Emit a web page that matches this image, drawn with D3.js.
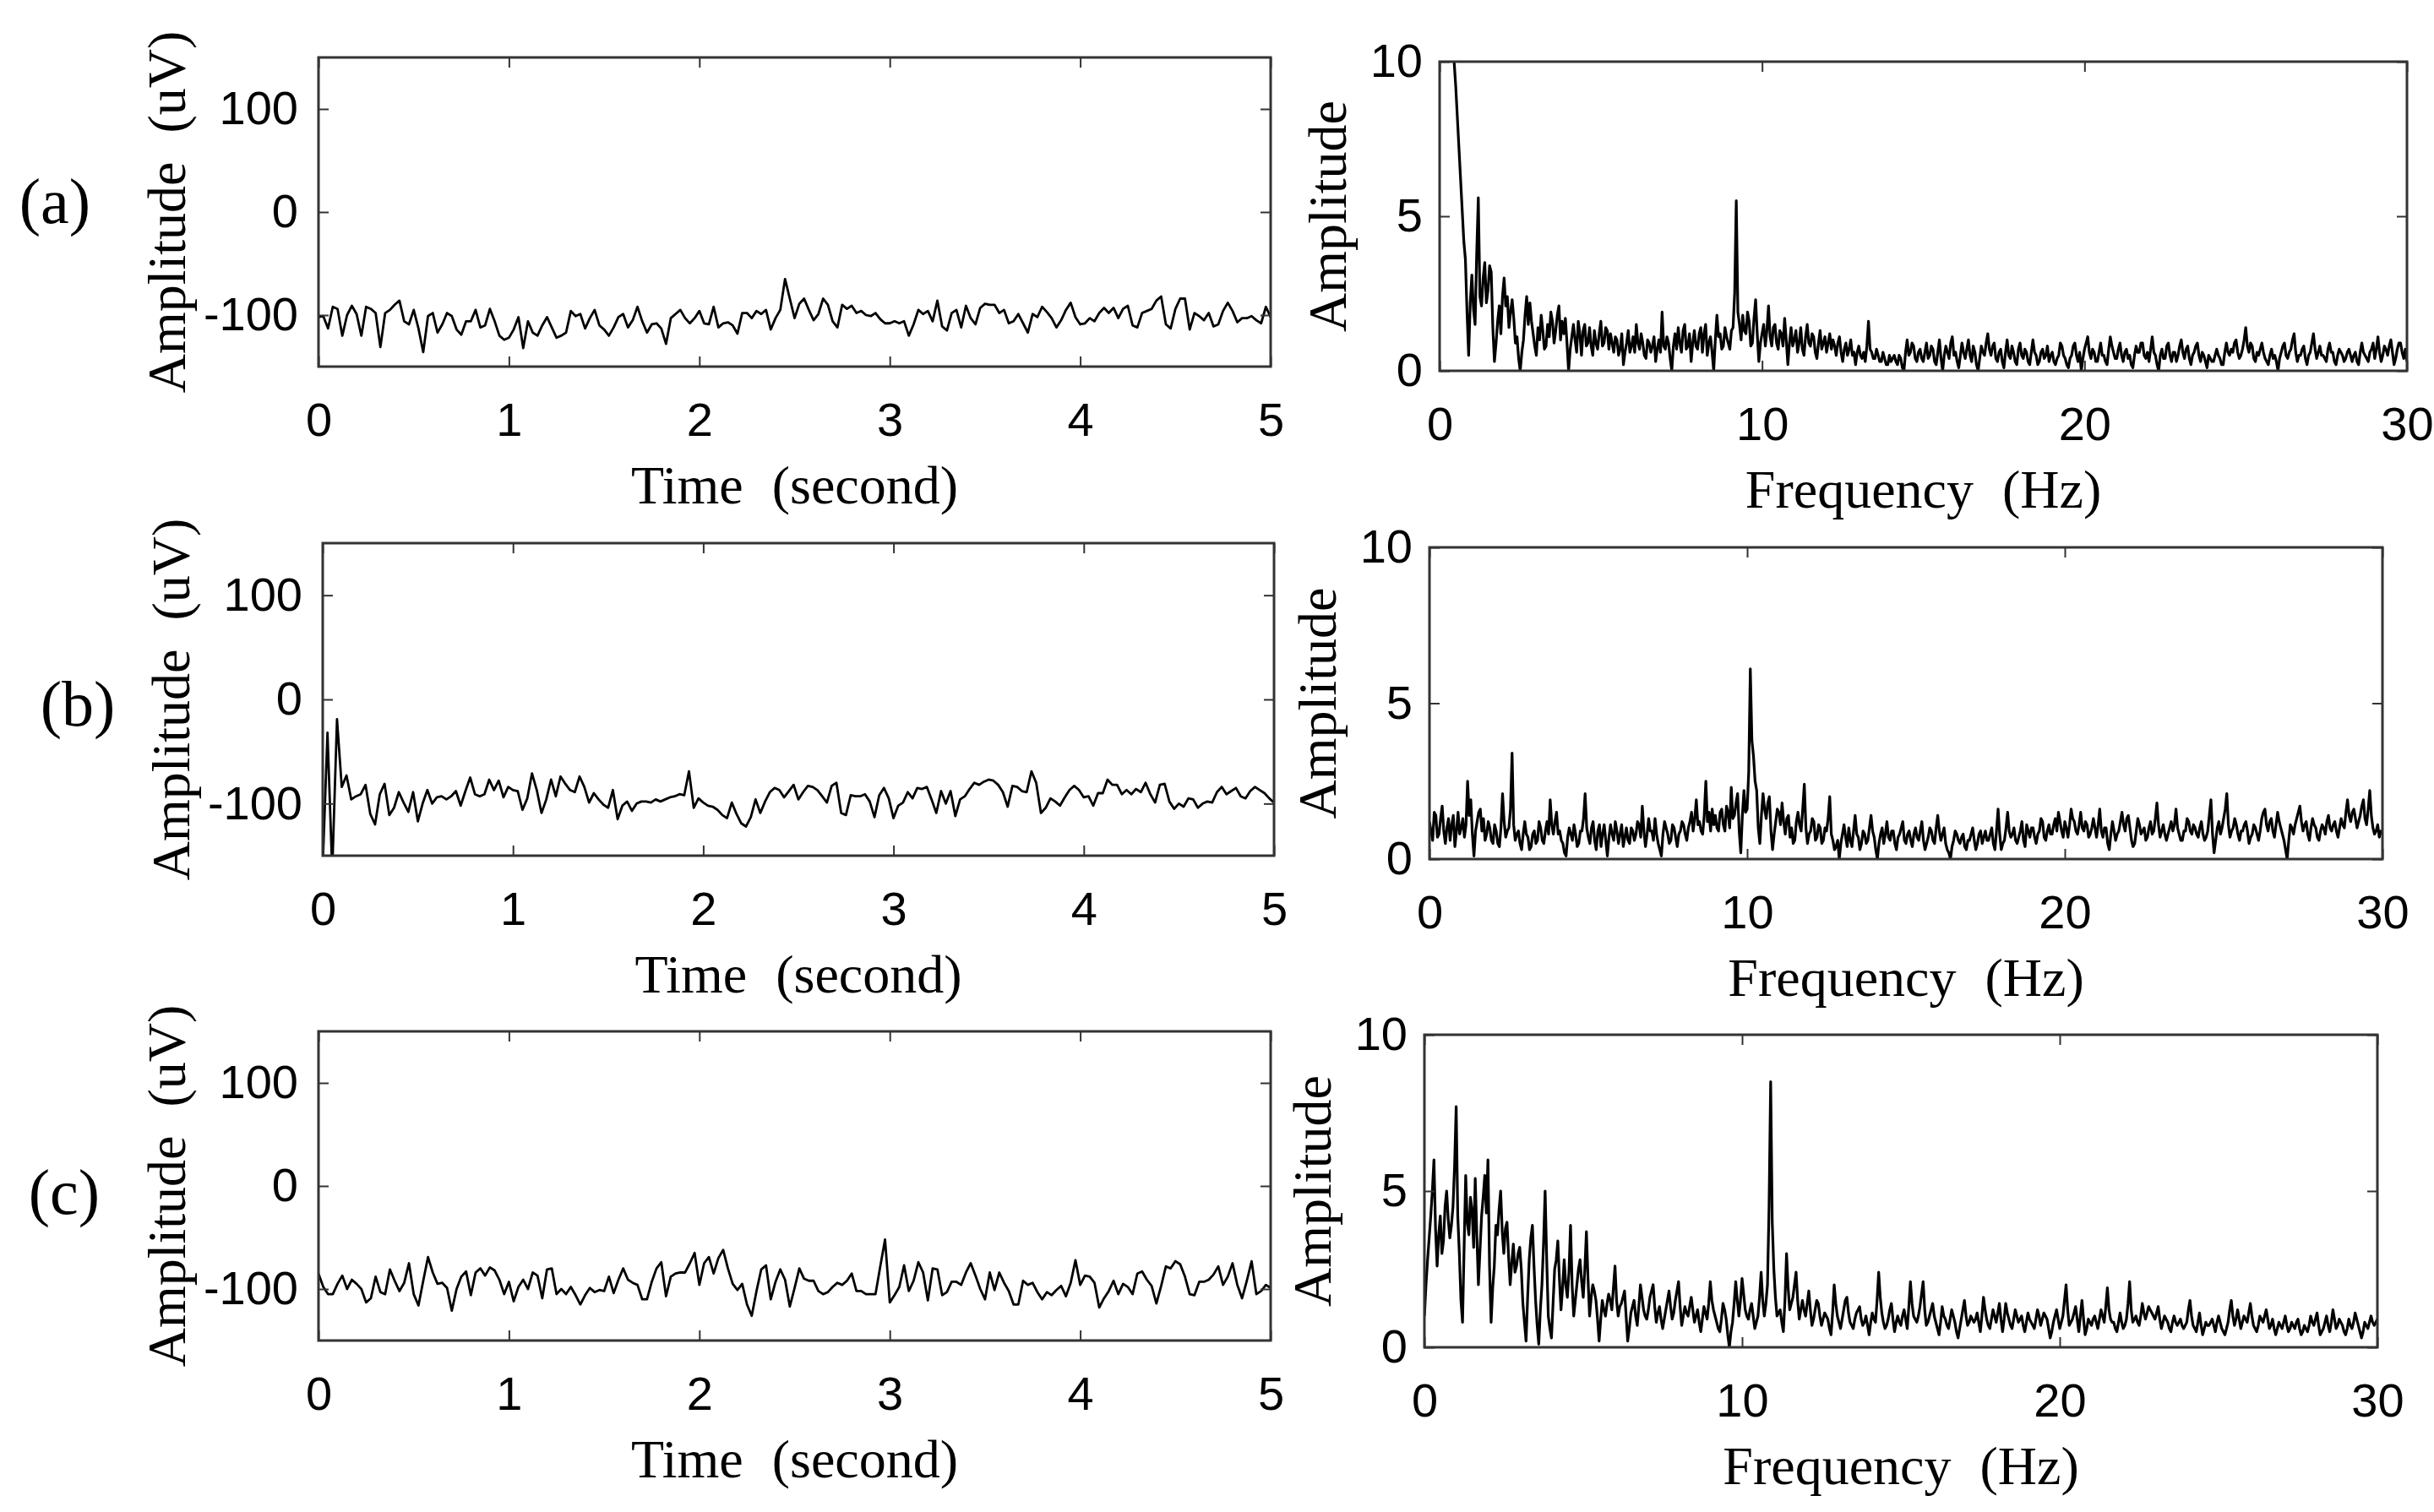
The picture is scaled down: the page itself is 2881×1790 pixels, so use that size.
<!DOCTYPE html>
<html lang="en">
<head>
<meta charset="UTF-8">
<title>EEG signals and spectra</title>
<script src="https://cdn.jsdelivr.net/npm/d3@7"></script>
<style>
  body { margin: 0; background: #fff; }
  svg { display: block; background: #fff; }
  .tick text { font-family: "Liberation Sans", Arial, sans-serif; font-size: 56px; fill: #000; }
  .tick line { stroke: #333; stroke-width: 2px; }
  .label { font-family: "Liberation Serif", "Times New Roman", serif; font-size: 64px; fill: #000; word-spacing: 18px; }
  .row { font-family: "Liberation Serif", "Times New Roman", serif; font-size: 76px; fill: #000; }
  .frame { fill: none; stroke: #333; stroke-width: 3px; }
  .trace { fill: none; stroke: #000; stroke-linejoin: round; }
  .trace.time { stroke-width: 2.8px; }
  .trace.freq { stroke-width: 3.2px; }
</style>
</head>
<body>
<svg id="fig" width="2881" height="1790"></svg>
<script>
// ---- data ----
var timeTicks = [0, 1, 2, 3, 4, 5];
var ampTicks = [-100, 0, 100];
var freqTicks = [0, 10, 20, 30];
var specTicks = [0, 5, 10];
var rowNames = ["(a)", "(b)", "(c)"];

var timeStep = 0.025; // seconds between samples
var freqStep = 0.05;  // Hz between bins

// time signals (uV), 0 .. 5 s
var waveA = [
  -102,-101,-113,-92,-94,-120,-100,-91,-99,-120,
  -92,-94,-98,-131,-98,-95,-90,-86,-106,-109,
  -95,-113,-136,-101,-98,-117,-109,-98,-101,-114,
  -119,-106,-106,-95,-112,-110,-94,-106,-120,-124,
  -122,-114,-102,-132,-106,-117,-120,-110,-102,-112,
  -122,-120,-117,-96,-101,-99,-113,-103,-95,-110,
  -114,-120,-112,-102,-99,-112,-105,-92,-106,-117,
  -109,-108,-113,-128,-103,-99,-95,-103,-108,-103,
  -96,-108,-109,-92,-112,-108,-107,-110,-118,-98,
  -98,-103,-96,-99,-95,-114,-103,-95,-65,-84,
  -103,-89,-84,-95,-105,-99,-84,-90,-106,-112,
  -90,-94,-91,-98,-96,-100,-101,-98,-104,-108,
  -108,-106,-108,-106,-120,-109,-95,-99,-96,-106,
  -86,-111,-115,-98,-95,-112,-91,-103,-109,-93,
  -89,-90,-90,-98,-95,-108,-106,-99,-108,-117,
  -99,-102,-92,-97,-103,-112,-105,-95,-88,-102,
  -109,-108,-103,-106,-98,-93,-98,-93,-103,-94,
  -91,-110,-112,-98,-96,-94,-86,-82,-109,-113,
  -94,-84,-84,-114,-98,-101,-105,-98,-111,-109,
  -96,-88,-96,-107,-103,-103,-101,-105,-108,-92,
  -102
];
var waveB = [
  -160,-32,-165,-19,-84,-73,-96,-93,-91,-82,
  -110,-120,-91,-81,-111,-104,-89,-99,-108,-89,
  -117,-100,-87,-100,-94,-93,-96,-93,-88,-102,
  -88,-75,-91,-93,-91,-77,-87,-78,-94,-84,
  -87,-88,-106,-95,-71,-87,-109,-96,-77,-93,
  -74,-81,-87,-89,-74,-84,-99,-90,-96,-101,
  -104,-87,-115,-102,-98,-107,-100,-98,-98,-99,
  -96,-98,-96,-94,-93,-91,-92,-69,-104,-95,
  -99,-102,-103,-106,-111,-114,-99,-110,-119,-122,
  -113,-96,-109,-98,-89,-85,-87,-94,-88,-82,
  -96,-89,-83,-84,-87,-93,-99,-83,-80,-109,
  -111,-92,-93,-93,-91,-98,-113,-92,-85,-95,
  -114,-102,-99,-89,-95,-85,-86,-84,-96,-109,
  -88,-100,-88,-112,-96,-93,-86,-80,-82,-79,
  -77,-78,-82,-89,-103,-83,-84,-88,-89,-69,
  -80,-109,-104,-95,-98,-102,-94,-87,-83,-87,
  -94,-93,-102,-90,-90,-77,-82,-82,-91,-87,
  -91,-86,-89,-80,-91,-99,-82,-81,-98,-105,
  -100,-103,-95,-96,-104,-100,-98,-99,-89,-84,
  -91,-88,-85,-93,-95,-88,-84,-87,-90,-95,
  -99
];
var waveC = [
  -85,-98,-105,-105,-95,-87,-100,-91,-95,-100,
  -113,-109,-88,-103,-105,-81,-92,-102,-94,-75,
  -105,-116,-92,-69,-84,-95,-94,-99,-121,-100,
  -88,-83,-106,-84,-80,-87,-79,-82,-91,-105,
  -93,-112,-98,-91,-100,-84,-87,-109,-81,-80,
  -105,-100,-105,-98,-106,-115,-106,-99,-103,-101,
  -102,-88,-104,-91,-80,-91,-94,-96,-110,-110,
  -93,-80,-74,-107,-88,-85,-84,-84,-75,-65,
  -96,-75,-69,-85,-70,-62,-80,-95,-101,-95,
  -115,-126,-102,-81,-77,-110,-93,-81,-91,-117,
  -99,-80,-90,-92,-92,-102,-105,-103,-98,-94,
  -96,-92,-85,-102,-102,-105,-105,-105,-78,-52,
  -113,-106,-98,-77,-102,-92,-74,-84,-111,-80,
  -81,-106,-103,-93,-93,-96,-84,-75,-87,-100,
  -110,-84,-101,-84,-94,-102,-115,-115,-92,-96,
  -94,-103,-110,-103,-106,-101,-97,-107,-94,-72,
  -96,-87,-88,-94,-118,-109,-102,-92,-105,-95,
  -98,-105,-85,-83,-91,-97,-114,-97,-78,-80,
  -73,-76,-88,-105,-106,-93,-93,-91,-86,-78,
  -96,-88,-75,-96,-109,-92,-73,-105,-102,-96,
  -99
];

// amplitude spectra, 0 .. 30 Hz (one row per Hz)
var specA = [
  16,15.5,15,14.5,14,13.2,12.4,11.6,10.8,10.0,9.2,8.2,7.2,6.2,5.2,4.2,3.6,1.9,0.5,2.2,
  3.1,2.0,1.5,3.8,5.6,2.4,2.1,3.0,3.5,2.2,2.6,3.4,3.2,1.4,0.3,0.9,1.6,2.1,1.2,2.4,
  3.0,2.1,2.4,1.4,1.9,2.3,1.7,0.9,1.1,0.4,0.0,0.6,1.0,1.8,2.4,1.5,2.2,1.6,1.2,0.8,
  0.5,1.4,1.0,1.8,1.3,0.7,0.8,1.5,1.1,1.9,1.6,0.9,1.3,1.8,2.1,1.0,1.6,1.2,1.7,0.9,
  0.0,0.7,1.1,1.5,1.0,0.6,1.6,1.2,0.5,1.3,1.5,0.8,0.9,1.4,0.8,0.5,1.3,0.9,0.7,1.2,
  1.6,0.8,0.9,1.4,1.3,0.7,1.2,0.9,0.6,1.1,1.0,0.5,0.7,1.2,0.2,0.6,0.9,1.3,0.6,0.8,
  1.1,0.6,1.5,0.9,0.7,1.2,0.9,0.5,0.4,1.0,0.9,0.6,0.8,1.1,0.3,0.7,1.0,0.6,1.9,0.8,
  0.7,1.1,0.9,0.4,0.0,0.8,1.2,0.7,1.4,0.9,0.6,1.3,1.5,0.7,0.8,1.2,0.3,0.9,1.3,0.8,
  0.7,1.2,1.4,0.6,1.2,1.5,0.5,0.9,1.1,0.6,0.0,1.0,1.8,1.1,1.2,0.7,0.8,1.4,1.1,0.9,
  0.7,1.3,1.4,2.5,5.5,1.9,1.5,1.0,1.8,1.3,1.2,1.9,1.6,0.8,0.9,1.7,2.3,1.2,0.3,0.9,
  1.2,1.5,0.8,1.3,2.1,1.1,0.8,1.4,1.5,0.9,0.7,1.3,1.2,0.8,1.7,1.0,0.2,0.9,1.4,0.8,
  1.0,1.3,0.6,0.9,1.4,0.7,0.5,1.1,1.5,0.9,0.8,1.2,1.1,0.6,0.4,0.9,1.3,0.7,0.9,1.1,
  0.6,0.9,1.2,0.7,1.0,0.8,0.5,0.9,1.1,0.6,0.3,0.7,0.9,0.5,0.7,1.0,0.5,0.6,0.2,0.6,
  0.8,0.5,0.4,0.6,0.3,0.8,1.6,0.7,0.6,0.4,0.4,0.7,0.5,0.3,0.3,0.6,0.4,0.2,0.2,0.5,
  0.3,0.4,0.5,0.3,0.2,0.5,0.4,0.1,0.0,0.6,1.0,0.5,0.6,0.9,0.8,0.4,0.3,0.6,0.7,0.4,
  0.3,0.6,0.9,0.4,0.5,0.8,0.7,0.3,0.2,0.6,1.0,0.4,0.0,0.5,0.8,0.6,0.4,0.9,1.1,0.5,
  0.6,0.3,0.1,0.5,0.9,0.6,0.4,0.7,1.0,0.5,0.3,0.8,0.6,0.2,0.0,0.4,0.8,0.6,0.5,0.9,
  1.2,0.7,0.5,0.8,0.9,0.4,0.3,0.6,0.7,0.3,0.1,0.6,1.0,0.5,0.4,0.8,0.6,0.3,0.2,0.7,
  0.9,0.5,0.4,0.7,0.6,0.3,0.2,0.6,1.0,0.6,0.5,0.2,0.3,0.6,0.7,0.4,0.5,0.8,0.3,0.5,
  0.6,0.3,0.2,0.4,0.5,0.9,0.8,0.5,0.4,0.2,0.1,0.4,0.5,0.8,0.9,0.5,0.3,0.6,0.0,0.4,
  0.7,0.9,1.1,0.6,0.4,0.7,0.6,0.3,0.3,0.6,0.9,0.5,0.5,0.3,0.2,0.7,1.1,0.8,0.6,0.4,
  0.4,0.7,0.9,0.5,0.3,0.6,0.7,0.4,0.5,0.2,0.1,0.5,0.8,0.6,0.6,0.9,0.9,0.5,0.4,0.6,
  0.3,0.7,1.1,0.6,0.5,0.2,0.0,0.5,0.7,0.4,0.4,0.8,0.9,0.5,0.3,0.6,0.6,0.3,0.5,0.8,
  1.0,0.6,0.4,0.7,0.8,0.4,0.2,0.5,0.6,0.8,0.9,0.5,0.3,0.6,0.5,0.3,0.1,0.5,0.4,0.3,
  0.3,0.5,0.7,0.5,0.4,0.2,0.2,0.6,0.9,0.6,0.5,0.7,0.6,0.9,1.0,0.6,0.4,0.5,0.7,1.0,
  1.4,0.8,0.6,0.9,0.8,0.4,0.3,0.6,0.5,0.7,0.9,0.6,0.4,0.3,0.2,0.5,0.7,0.4,0.5,0.3,
  0.0,0.4,0.6,0.8,0.9,0.5,0.4,0.6,0.7,1.0,1.2,0.6,0.3,0.5,0.5,0.7,0.8,0.4,0.2,0.5,
  0.6,0.9,1.2,0.7,0.4,0.6,0.8,0.5,0.5,0.4,0.3,0.7,0.9,0.6,0.6,0.3,0.2,0.5,0.7,0.6,
  0.5,0.3,0.4,0.6,0.7,0.5,0.3,0.5,0.6,0.3,0.2,0.6,0.9,0.6,0.5,0.4,0.3,0.6,0.7,0.9,
  0.4,0.7,1.1,0.6,0.3,0.5,0.8,0.7,0.5,0.8,1.0,0.6,0.2,0.4,0.7,0.9,0.9,0.6,0.4,0.7,
  0.3
];
var specB = [
  1.2,0.9,0.6,1.5,1.4,0.7,0.8,1.3,1.7,0.9,0.5,1.0,1.3,0.6,1.1,1.4,0.4,0.9,1.5,0.8,
  1.0,1.3,0.7,1.1,2.5,1.4,1.9,0.8,0.1,0.9,1.2,1.5,1.6,0.9,1.3,0.6,0.8,1.2,1.0,0.6,
  0.5,1.1,0.9,0.5,0.4,1.0,2.1,1.2,0.7,0.9,1.0,1.6,3.4,1.1,0.6,0.8,0.9,0.5,0.3,0.8,
  1.2,0.8,0.7,0.3,0.4,0.8,0.9,0.5,0.6,1.2,1.0,0.6,0.5,0.9,1.2,0.8,1.9,1.1,0.8,1.2,
  1.5,0.8,0.9,0.6,0.5,0.2,0.1,0.7,1.0,0.8,0.6,1.1,0.8,0.4,0.5,0.9,0.9,1.3,2.1,1.0,
  0.7,0.5,1.0,1.2,0.6,0.3,0.9,1.1,0.4,0.8,1.1,0.6,0.1,0.7,1.1,0.8,0.6,1.2,0.9,0.5,
  0.8,1.1,0.4,0.7,1.0,0.6,0.5,1.0,0.9,0.6,0.8,1.2,1.1,0.7,1.7,0.9,0.4,0.8,1.3,0.9,
  0.9,0.6,1.3,0.8,0.5,0.3,0.1,0.8,1.2,1.0,0.8,0.5,0.6,1.1,1.0,0.7,0.4,0.8,0.9,1.2,
  1.1,0.8,0.6,1.0,1.2,1.5,0.9,1.3,1.9,1.1,1.2,0.9,0.8,1.4,2.5,1.2,1.5,0.9,1.6,1.1,
  1.4,1.0,0.9,1.5,1.6,1.1,0.9,1.7,1.5,1.0,2.3,1.3,1.4,1.8,2.1,0.9,0.2,1.4,2.2,1.5,
  1.6,2.8,6.1,3.8,3.3,2.5,2.2,1.0,0.5,1.4,2.1,1.6,1.3,1.8,2.0,0.9,0.3,0.8,1.2,1.6,
  1.5,1.1,1.8,1.2,0.8,1.3,1.4,0.7,1.0,0.5,0.6,1.2,1.5,1.1,0.9,1.6,2.4,1.0,0.5,0.8,
  0.9,1.3,1.2,0.6,0.7,1.1,1.0,0.5,0.6,1.0,0.9,1.3,2.0,0.8,0.6,0.3,0.4,0.6,0.0,0.5,
  0.8,1.1,0.7,0.4,1.0,0.6,0.4,0.9,1.4,0.8,0.7,0.3,0.5,0.9,0.8,0.5,0.6,1.0,1.4,0.9,
  0.7,0.3,0.0,0.5,0.8,1.0,0.5,0.8,1.2,0.7,0.6,0.9,0.9,0.5,0.3,0.7,0.8,1.0,1.2,0.6,
  0.5,0.8,0.9,0.6,0.4,0.8,1.0,0.7,0.6,0.9,1.2,0.6,0.3,0.5,0.7,1.0,0.9,0.6,0.5,1.0,
  1.4,0.9,0.6,0.8,1.0,0.5,0.3,0.2,0.0,0.4,0.6,0.9,0.8,0.6,0.5,0.7,0.8,0.4,0.3,0.6,
  0.6,0.8,1.0,0.6,0.3,0.5,0.8,0.9,0.5,0.7,0.9,0.6,0.6,0.8,1.0,0.5,0.3,0.9,1.6,0.8,
  0.3,0.5,0.6,1.0,1.5,0.9,0.7,0.8,1.0,0.6,0.5,0.7,0.9,1.2,0.6,0.4,1.1,0.9,0.7,1.0,
  1.0,0.7,0.5,0.8,0.9,1.3,1.2,0.7,0.6,0.9,1.1,0.8,0.8,1.1,1.3,0.9,1.5,1.2,0.9,0.7,
  1.2,1.0,0.7,1.1,1.6,1.3,1.2,0.9,0.8,1.1,1.5,1.0,0.9,1.2,1.1,0.7,0.8,1.0,1.3,1.0,
  0.7,1.1,1.6,0.9,0.7,1.0,1.0,0.5,0.3,0.8,1.2,0.9,0.6,0.8,0.9,1.2,1.5,1.1,0.9,1.3,
  1.4,1.0,0.6,0.4,0.5,0.9,1.3,1.1,0.8,0.9,1.0,0.6,0.7,1.0,1.2,0.8,0.9,1.3,1.8,1.1,
  0.7,0.9,1.1,0.8,0.6,0.8,1.0,1.2,0.9,1.1,1.6,1.0,0.8,0.6,0.6,0.9,0.9,1.3,1.2,0.9,
  0.8,1.1,1.0,0.8,0.7,1.0,1.2,0.8,0.6,0.7,0.9,1.4,1.9,0.8,0.2,0.6,1.0,1.2,0.8,1.0,
  1.3,1.6,2.1,1.1,0.7,0.9,1.0,1.3,1.1,0.8,0.6,0.9,0.9,1.1,1.2,0.9,0.5,0.7,0.8,1.1,
  1.0,0.8,0.6,0.9,1.3,1.5,1.6,1.1,0.9,1.2,1.3,0.9,0.7,1.1,1.5,1.2,1.0,0.8,0.6,0.3,
  0.0,0.6,1.1,1.0,0.8,1.1,1.3,1.5,1.7,1.2,0.9,1.1,1.2,0.8,0.6,1.0,1.3,1.1,1.0,0.7,
  0.6,0.9,1.1,1.0,0.8,1.2,1.4,1.0,0.9,1.1,1.2,0.9,0.7,1.0,1.3,1.1,1.0,1.5,1.9,1.4,
  1.2,1.5,1.6,1.3,1.0,1.2,1.4,1.7,1.9,1.3,1.1,1.6,2.2,1.4,1.0,0.8,0.9,1.1,0.7,0.9,
  0.8
];
var specC = [
  1.0,2.0,2.8,3.5,4.2,5.0,6.0,3.8,2.6,3.6,4.2,3.0,3.4,4.5,5.0,4.1,3.5,3.9,4.5,5.8,
  7.7,4.2,3.0,1.5,0.8,3.2,5.5,4.0,3.6,4.8,4.4,3.2,5.4,3.6,2.0,3.1,4.2,4.8,5.5,4.3,
  6.0,2.6,0.8,1.9,2.6,3.9,3.6,4.4,5.0,3.7,3.0,3.8,4.0,2.9,2.0,2.7,3.3,2.4,2.6,3.0,
  3.2,2.5,1.4,0.8,0.2,1.6,2.8,3.5,3.9,2.6,1.5,0.7,0.1,1.2,2.0,3.3,5.0,2.8,1.0,0.6,
  0.3,1.4,2.5,2.8,3.4,2.2,1.2,1.9,2.8,2.0,1.6,2.4,3.9,2.0,1.0,1.5,2.0,2.5,2.8,2.1,
  1.6,2.5,3.7,2.2,1.0,1.6,2.0,1.8,1.5,0.9,0.2,0.9,1.5,1.2,1.0,1.4,1.7,1.5,1.2,1.9,
  2.6,1.5,1.0,1.3,1.4,1.6,1.8,1.0,0.2,0.6,1.1,1.3,1.5,1.0,0.7,1.3,2.0,1.6,1.2,1.0,
  0.9,1.2,1.6,1.8,2.0,1.3,0.8,1.1,1.3,0.9,0.6,0.9,1.2,1.5,1.8,1.3,0.9,1.1,1.5,1.8,
  2.1,1.3,0.7,1.0,1.3,1.1,1.0,1.3,1.6,1.2,0.8,1.0,1.2,0.8,0.5,0.9,1.3,1.1,0.9,1.4,
  2.1,1.5,1.2,1.0,0.8,0.6,0.5,0.9,1.4,1.2,0.9,0.4,0.0,0.5,0.8,1.4,2.1,1.5,1.0,1.5,
  2.2,1.7,1.2,1.0,0.9,1.2,1.4,1.0,0.6,0.8,1.0,1.6,2.4,1.5,1.0,1.4,2.0,4.5,8.5,4.0,
  2.5,1.6,1.0,1.1,1.2,0.8,0.5,1.5,3.0,1.9,1.2,1.4,1.6,2.0,2.4,1.5,0.9,1.2,1.5,1.2,
  1.0,1.4,1.8,1.2,0.7,0.9,1.2,1.5,1.4,1.0,0.7,0.9,1.1,1.0,0.9,0.6,0.4,1.1,2.0,1.4,
  1.0,0.8,0.6,0.9,1.2,1.5,1.6,1.1,0.8,0.7,0.6,0.9,1.1,1.2,1.3,0.9,0.7,0.8,1.0,0.7,
  0.4,0.8,1.1,0.9,0.8,1.5,2.4,1.6,1.1,0.8,0.6,0.7,0.9,1.2,1.4,0.9,0.5,0.8,1.0,0.8,
  0.7,1.0,1.2,0.9,0.6,1.3,2.1,1.4,1.0,0.9,0.8,1.0,1.3,1.7,2.1,1.2,0.7,0.8,1.0,1.2,
  1.4,1.0,0.8,0.6,0.4,0.8,1.3,1.0,0.9,0.7,0.6,0.9,1.2,1.0,0.8,0.5,0.3,0.6,0.9,1.2,
  1.5,1.0,0.7,0.8,1.0,0.9,0.8,0.9,1.1,0.8,0.5,1.0,1.6,1.2,0.9,0.7,0.6,0.9,1.2,1.0,
  0.8,1.1,1.4,0.9,0.5,0.9,1.4,1.1,0.9,0.7,0.6,0.9,1.2,1.0,0.8,0.9,1.0,0.7,0.5,0.8,
  1.1,0.9,0.8,0.7,0.6,0.9,1.2,1.0,0.7,0.9,1.1,1.0,0.9,0.6,0.3,0.5,0.8,1.0,1.2,0.9,
  0.6,0.8,1.0,1.5,2.0,1.2,0.7,0.8,0.9,1.1,1.3,0.9,0.5,1.0,1.5,0.9,0.4,0.6,0.9,0.8,
  0.7,0.9,1.0,0.8,0.6,0.9,1.2,1.0,0.8,1.3,1.9,1.2,0.9,0.8,0.8,0.6,0.5,0.8,1.1,0.8,
  0.6,0.7,0.9,1.4,2.1,1.2,0.8,0.9,1.0,0.8,0.7,1.0,1.4,1.1,0.9,1.1,1.3,1.2,1.1,1.0,
  0.9,1.1,1.3,0.9,0.6,0.8,1.0,0.9,0.8,0.6,0.5,0.8,1.0,0.8,0.7,0.8,0.9,0.7,0.6,0.7,
  0.8,1.2,1.5,1.0,0.7,0.6,0.5,0.8,1.1,0.7,0.4,0.6,0.8,0.7,0.7,0.8,0.9,0.7,0.5,0.8,
  1.0,0.8,0.6,0.5,0.4,0.6,0.8,1.2,1.5,1.0,0.7,0.9,1.2,0.9,0.6,0.8,1.0,0.9,0.8,1.1,
  1.4,1.0,0.7,0.6,0.5,0.7,1.0,0.9,0.8,1.0,1.2,0.9,0.6,0.7,0.9,0.6,0.4,0.6,0.8,0.7,
  0.6,0.8,1.0,0.7,0.5,0.6,0.8,0.7,0.6,0.8,0.9,0.6,0.4,0.5,0.7,0.6,0.5,0.7,1.0,0.8,
  0.7,0.9,1.1,0.7,0.4,0.5,0.6,0.8,1.0,0.7,0.5,0.8,1.2,0.9,0.6,0.7,0.9,0.8,0.7,0.5,
  0.4,0.6,0.9,0.7,0.6,0.8,1.1,0.9,0.7,0.5,0.3,0.5,0.8,0.7,0.6,0.8,1.0,0.8,0.7,0.8,
  0.9
];

// ---- layout ----
var kinds = {
  time: { xDomain: [0, 5], yDomain: [-150, 150], xTicks: timeTicks, yTicks: ampTicks,
          step: timeStep, xLabel: "Time (second)",
          yLabel: "Amplitude (uV)", yLabelGap: 158, yPad: 24 },
  freq: { xDomain: [0, 30], yDomain: [0, 10], xTicks: freqTicks, yTicks: specTicks,
          step: freqStep, xLabel: "Frequency (Hz)",
          yLabel: "Amplitude", yLabelGap: 111, yPad: 20 }
};

var panels = [
  { id: "a1", kind: "time", values: waveA, left: 377, right: 1504, top: 68,   bottom: 434 },
  { id: "b1", kind: "time", values: waveB, left: 382, right: 1508, top: 643,  bottom: 1013 },
  { id: "c1", kind: "time", values: waveC, left: 377, right: 1504, top: 1221, bottom: 1587 },
  { id: "a2", kind: "freq", values: specA, left: 1704, right: 2849, top: 73,  bottom: 439 },
  { id: "b2", kind: "freq", values: specB, left: 1692, right: 2820, top: 648, bottom: 1017 },
  { id: "c2", kind: "freq", values: specC, left: 1686, right: 2814, top: 1225, bottom: 1595 }
];

var rowPos = [[65, 264], [92, 859], [76, 1437]];

var svg = d3.select("#fig");
var defs = svg.append("defs");
var plain = function(d) { return String(d); };

function drawPanel(p) {
  var k = kinds[p.kind];
  var x = d3.scaleLinear().domain(k.xDomain).range([p.left, p.right]);
  var y = d3.scaleLinear().domain(k.yDomain).range([p.bottom, p.top]);
  var g = svg.append("g").attr("id", "panel-" + p.id);

  defs.append("clipPath").attr("id", "clip-" + p.id)
    .append("rect")
    .attr("x", p.left).attr("y", p.top)
    .attr("width", p.right - p.left).attr("height", p.bottom - p.top);

  var line = d3.line()
    .x(function(d, i) { return x(i * k.step); })
    .y(function(d) { return y(d); });

  g.append("path")
    .datum(p.values)
    .attr("class", "trace " + p.kind)
    .attr("clip-path", "url(#clip-" + p.id + ")")
    .attr("d", line);

  // ticks point inward on all four sides, labels only bottom/left
  g.append("g").attr("transform", "translate(0," + p.bottom + ")")
    .call(d3.axisBottom(x).tickValues(k.xTicks).tickFormat(plain)
      .tickSizeInner(-12).tickSizeOuter(0).tickPadding(42));
  g.append("g").attr("transform", "translate(0," + p.top + ")")
    .call(d3.axisTop(x).tickValues(k.xTicks).tickFormat("")
      .tickSizeInner(-12).tickSizeOuter(0));
  g.append("g").attr("transform", "translate(" + p.left + ",0)")
    .call(d3.axisLeft(y).tickValues(k.yTicks).tickFormat(plain)
      .tickSizeInner(-12).tickSizeOuter(0).tickPadding(k.yPad));
  g.append("g").attr("transform", "translate(" + p.right + ",0)")
    .call(d3.axisRight(y).tickValues(k.yTicks).tickFormat("")
      .tickSizeInner(-12).tickSizeOuter(0));

  g.selectAll(".domain").remove();
  g.selectAll("g").attr("font-family", null).attr("font-size", null);

  g.append("rect")
    .attr("class", "frame")
    .attr("x", p.left).attr("y", p.top)
    .attr("width", p.right - p.left).attr("height", p.bottom - p.top);

  g.append("text")
    .attr("class", "label")
    .attr("text-anchor", "middle")
    .attr("x", (p.left + p.right) / 2)
    .attr("y", p.bottom + 162)
    .text(k.xLabel);

  g.append("text")
    .attr("class", "label")
    .attr("text-anchor", "middle")
    .attr("transform", "translate(" + (p.left - k.yLabelGap) + "," + ((p.top + p.bottom) / 2) + ") rotate(-90)")
    .text(k.yLabel);
}

panels.forEach(drawPanel);

svg.selectAll("text.row")
  .data(rowNames)
  .enter()
  .append("text")
  .attr("class", "row")
  .attr("text-anchor", "middle")
  .attr("x", function(d, i) { return rowPos[i][0]; })
  .attr("y", function(d, i) { return rowPos[i][1]; })
  .text(function(d) { return d; });
</script>
</body>
</html>
